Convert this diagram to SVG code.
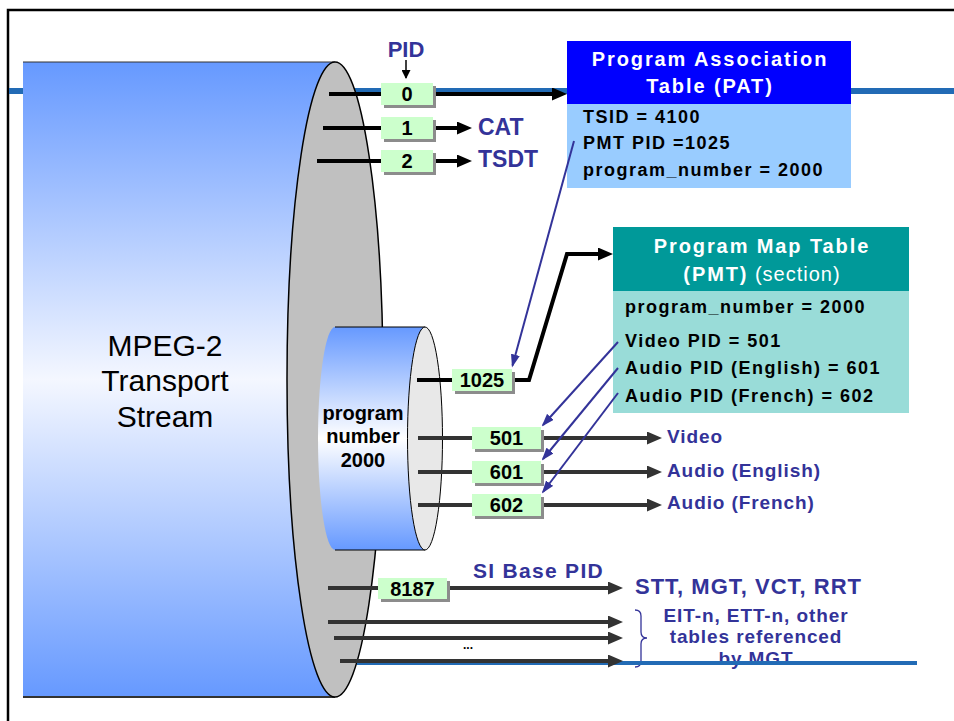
<svg xmlns="http://www.w3.org/2000/svg" width="954" height="721" viewBox="0 0 954 721">
<defs>
<linearGradient id="gMain" x1="0" y1="0" x2="0" y2="1">
<stop offset="0" stop-color="#6699ff"/>
<stop offset="0.5" stop-color="#f4f7ff"/>
<stop offset="1" stop-color="#6699ff"/>
</linearGradient>
<linearGradient id="gInner" x1="0" y1="0" x2="0" y2="1">
<stop offset="0" stop-color="#6699ff"/>
<stop offset="0.5" stop-color="#ffffff"/>
<stop offset="1" stop-color="#6699ff"/>
</linearGradient>
<marker id="ahBlack" markerUnits="userSpaceOnUse" markerWidth="15" markerHeight="13" refX="10" refY="6.5" orient="auto">
<path d="M0,0 L15,6.5 L0,13 z" fill="#000"/>
</marker>
<marker id="ahGray" markerUnits="userSpaceOnUse" markerWidth="15" markerHeight="13" refX="10" refY="6.5" orient="auto">
<path d="M0,0 L15,6.5 L0,13 z" fill="#333"/>
</marker>
<marker id="ahBlue" markerUnits="userSpaceOnUse" markerWidth="13" markerHeight="9" refX="11" refY="4.5" orient="auto">
<path d="M0,0 L13,4.5 L0,9 z" fill="#333399"/>
</marker>
<marker id="ahSmall" markerUnits="userSpaceOnUse" markerWidth="9" markerHeight="9" refX="8" refY="4.5" orient="auto">
<path d="M0,0 L9,4.5 L0,9 z" fill="#000"/>
</marker>
</defs>
<style>
text{font-family:"Liberation Sans",Arial,sans-serif}
.b{font-weight:bold}
.lbl{font-weight:bold;fill:#333399}
.title{font-weight:bold;fill:#fff;font-size:20px;letter-spacing:1.9px;text-anchor:middle}
.body{font-weight:bold;fill:#000;font-size:18px;letter-spacing:1.5px}
.pid{fill:#ccffcc}
.shd{fill:#8c8c8c}
.num{font-weight:bold;font-size:20px;text-anchor:middle;fill:#000}
.lk{stroke:#000;stroke-width:4;fill:none}
.lg{stroke:#333;stroke-width:4;fill:none}
.lb{stroke:#333399;stroke-width:2;fill:none}
</style>
<g id="frame">
<path d="M8,721 L8,10 L954,10" fill="none" stroke="#000" stroke-width="2.5"/>
<line x1="9" y1="91" x2="954" y2="91" stroke="#226bb5" stroke-width="6"/>
</g>
<g id="transport-stream">
<rect x="23" y="62" width="312" height="635" fill="url(#gMain)"/>
<line x1="23" y1="62" x2="335" y2="62" stroke="#333" stroke-width="1"/>
<line x1="23" y1="697" x2="335" y2="697" stroke="#333" stroke-width="2"/>
<ellipse cx="335" cy="379.5" rx="48" ry="317.5" fill="#c0c0c0" stroke="#000" stroke-width="1.5"/>
<text x="165" y="356" font-size="30" text-anchor="middle">MPEG-2</text>
<text x="165" y="391" font-size="30" text-anchor="middle">Transport</text>
<text x="165" y="427" font-size="30" text-anchor="middle">Stream</text>
</g>
<g id="program-2000">
<path d="M335,327 L425,327 L425,550 L335,550 A17,111.5 0 0 1 335,327 Z" fill="url(#gInner)"/>
<line x1="335" y1="327" x2="425" y2="327" stroke="#000" stroke-width="1"/>
<line x1="335" y1="550" x2="425" y2="550" stroke="#000" stroke-width="1"/>
<ellipse cx="425" cy="438.5" rx="17.5" ry="111.5" fill="#e8e8e8" stroke="#000" stroke-width="1"/>
<text class="num" x="363" y="420">program</text>
<text class="num" x="363" y="443">number</text>
<text class="num" x="363" y="467">2000</text>
</g>
<g id="pat">
<rect x="567" y="41" width="284" height="63" fill="#0000ff"/>
<rect x="567" y="104" width="284" height="84" fill="#99ccff"/>
<text class="title" x="710" y="66">Program Association</text>
<text class="title" x="710" y="93">Table (PAT)</text>
<text class="body" x="583" y="123">TSID = 4100</text>
<text class="body" x="583" y="149">PMT PID =1025</text>
<text class="body" x="583" y="176">program_number = 2000</text>
</g>
<g id="pmt">
<rect x="613" y="227" width="296" height="64" fill="#009999"/>
<rect x="613" y="291" width="296" height="122" fill="#99dcd8"/>
<text class="title" x="762" y="253">Program Map Table</text>
<text class="title" x="762" y="281">(PMT)<tspan font-weight="normal" letter-spacing="1px"> (section)</tspan></text>
<text class="body" x="625" y="313">program_number = 2000</text>
<text class="body" x="625" y="347">Video PID = 501</text>
<text class="body" x="625" y="374">Audio PID (English) = 601</text>
<text class="body" x="625" y="402">Audio PID (French) = 602</text>
</g>
<g id="labels">
<text class="lbl" x="406" y="57" font-size="22" text-anchor="middle">PID</text>
<text class="lbl" x="478" y="135" font-size="23">CAT</text>
<text class="lbl" x="478" y="167" font-size="23">TSDT</text>
<text class="lbl" x="667" y="443" font-size="19" letter-spacing="0.9">Video</text>
<text class="lbl" x="667" y="477" font-size="19" letter-spacing="0.9">Audio (English)</text>
<text class="lbl" x="667" y="509" font-size="19" letter-spacing="0.9">Audio (French)</text>
<text class="lbl" x="473" y="578" font-size="21" letter-spacing="1.3">SI Base PID</text>
<text class="lbl" x="635" y="594" font-size="22" letter-spacing="1">STT, MGT, VCT, RRT</text>
<path d="M635,610 Q641,610 641,616 L641,632 Q641,638 647,638 Q641,638 641,644 L641,661 Q641,667 635,667" fill="none" stroke="#333399" stroke-width="1.3"/>
<text class="lbl" x="756" y="622" font-size="19" letter-spacing="0.9" text-anchor="middle">EIT-n, ETT-n, other</text>
<text class="lbl" x="756" y="643" font-size="19" letter-spacing="0.9" text-anchor="middle">tables referenced</text>
<text class="lbl" x="756" y="665" font-size="19" letter-spacing="0.9" text-anchor="middle">by MGT</text>
<text x="468" y="649" font-size="12" font-weight="bold" text-anchor="middle">...</text>
</g>
<line id="bottom-rule" x1="357" y1="663" x2="917" y2="663" stroke="#226bb5" stroke-width="4"/>
<g id="connectors">
<line x1="406" y1="60" x2="406" y2="78" stroke="#000" stroke-width="1.5" marker-end="url(#ahSmall)"/>
<line class="lk" x1="329" y1="94" x2="562" y2="94" marker-end="url(#ahBlack)"/>
<line class="lk" x1="323" y1="128" x2="467" y2="128" marker-end="url(#ahBlack)"/>
<line class="lk" x1="317" y1="161" x2="467" y2="161" marker-end="url(#ahBlack)"/>
<line class="lk" x1="417" y1="380" x2="455" y2="380"/>
<polyline class="lk" points="512,380 529,380 567,254 608,254" marker-end="url(#ahBlack)"/>
<line class="lg" x1="418" y1="438" x2="657" y2="438" marker-end="url(#ahGray)"/>
<line class="lg" x1="418" y1="472" x2="657" y2="472" marker-end="url(#ahGray)"/>
<line class="lg" x1="418" y1="505" x2="657" y2="505" marker-end="url(#ahGray)"/>
<line class="lg" x1="328" y1="588" x2="618" y2="588" marker-end="url(#ahGray)"/>
<line class="lg" x1="328" y1="622" x2="618" y2="622" marker-end="url(#ahGray)"/>
<line class="lg" x1="334" y1="638" x2="618" y2="638" marker-end="url(#ahGray)"/>
<line class="lg" x1="340" y1="661" x2="618" y2="661" marker-end="url(#ahGray)"/>
<line class="lb" x1="574" y1="141" x2="512.5" y2="365.5" marker-end="url(#ahBlue)"/>
<line class="lb" x1="618" y1="342" x2="543" y2="425" marker-end="url(#ahBlue)"/>
<line class="lb" x1="618" y1="368" x2="543" y2="459" marker-end="url(#ahBlue)"/>
<line class="lb" x1="618" y1="393" x2="543" y2="492" marker-end="url(#ahBlue)"/>
</g>
<g id="pid-0"><rect class="shd" x="384" y="86" width="52" height="22"/><rect class="pid" x="381" y="83" width="52" height="22"/><text class="num" x="407" y="101">0</text></g>
<g id="pid-1"><rect class="shd" x="384" y="120" width="52" height="22"/><rect class="pid" x="381" y="117" width="52" height="22"/><text class="num" x="407" y="135">1</text></g>
<g id="pid-2"><rect class="shd" x="384" y="153" width="52" height="22"/><rect class="pid" x="381" y="150" width="52" height="22"/><text class="num" x="407" y="168">2</text></g>
<g id="pid-1025"><rect class="shd" x="455" y="372" width="60" height="22"/><rect class="pid" x="452" y="369" width="60" height="22"/><text class="num" x="482" y="387">1025</text></g>
<g id="pid-501"><rect class="shd" x="475" y="430" width="69" height="22"/><rect class="pid" x="472" y="427" width="69" height="22"/><text class="num" x="506.5" y="445">501</text></g>
<g id="pid-601"><rect class="shd" x="475" y="464" width="69" height="22"/><rect class="pid" x="472" y="461" width="69" height="22"/><text class="num" x="506.5" y="479">601</text></g>
<g id="pid-602"><rect class="shd" x="475" y="497" width="69" height="22"/><rect class="pid" x="472" y="494" width="69" height="22"/><text class="num" x="506.5" y="512">602</text></g>
<g id="pid-8187"><rect class="shd" x="381" y="581" width="69" height="21"/><rect class="pid" x="378" y="578" width="69" height="21"/><text class="num" x="412.5" y="596">8187</text></g>
</svg>
